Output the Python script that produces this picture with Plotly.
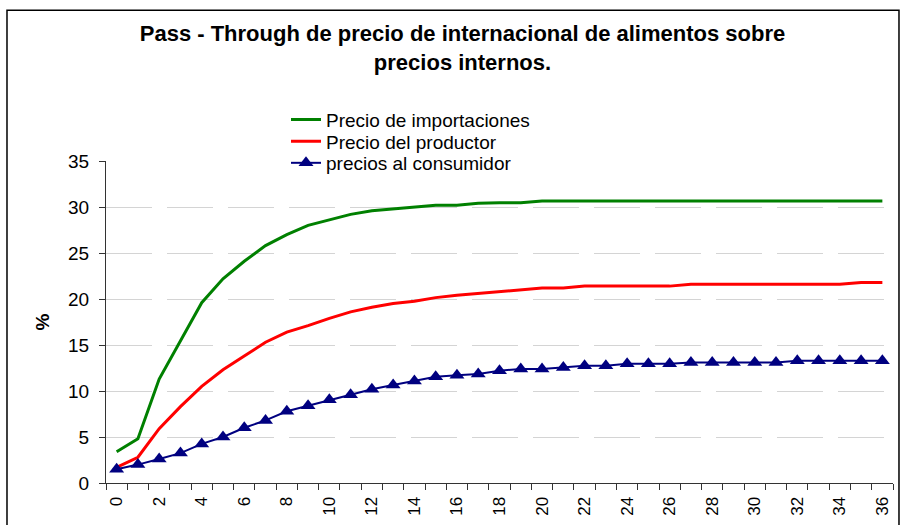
import plotly.graph_objects as go

horizon = list(range(0, 37))
tick_labels = [str(v) for v in range(0, 37, 2)]

import_prices = [3.4, 4.8, 11.3, 15.5, 19.6, 22.2, 24.1, 25.8, 27.0, 28.0,
                 28.6, 29.2, 29.6, 29.8, 30.0, 30.2, 30.2, 30.4, 30.45, 30.45,
                 30.65, 30.65, 30.65, 30.65, 30.65, 30.65, 30.65, 30.65, 30.65, 30.65,
                 30.65, 30.65, 30.65, 30.65, 30.65, 30.65, 30.65]
producer_prices = [1.7, 2.8, 5.9, 8.3, 10.5, 12.3, 13.8, 15.3, 16.4, 17.1,
                   17.9, 18.6, 19.1, 19.5, 19.75, 20.15, 20.4, 20.6, 20.75, 21.0,
                   21.2, 21.2, 21.4, 21.4, 21.4, 21.4, 21.4, 21.6, 21.6, 21.6,
                   21.6, 21.6, 21.6, 21.6, 21.6, 21.8, 21.8]
consumer_prices = [1.5, 2.0, 2.6, 3.25, 4.25, 5.0, 6.0, 6.8, 7.8, 8.4,
                   9.05, 9.6, 10.2, 10.65, 11.1, 11.55, 11.7, 11.85, 12.2, 12.4,
                   12.4, 12.55, 12.75, 12.75, 12.95, 12.95, 12.95, 13.1, 13.1, 13.1,
                   13.1, 13.1, 13.3, 13.3, 13.3, 13.3, 13.3]

FONT = "Liberation Sans, Arial, sans-serif"

fig = go.Figure()
fig.add_trace(go.Scatter(x=horizon, y=import_prices, mode="lines",
                         name="Precio de importaciones", legend="legend",
                         line=dict(color="#008000", width=3)))
fig.add_trace(go.Scatter(x=horizon, y=producer_prices, mode="lines",
                         name="Precio del productor", legend="legend2",
                         line=dict(color="#FF0000", width=3)))
fig.add_trace(go.Scatter(x=horizon, y=consumer_prices, mode="lines+markers",
                         name="precios al consumidor", legend="legend3",
                         line=dict(color="#000080", width=2),
                         marker=dict(symbol="triangle-up", size=13, color="#000080")))

# chart-area frame
fig.add_shape(type="rect", xref="paper", yref="paper",
              x0=-0.1258, x1=1.0076, y0=-0.3, y1=1.468,
              line=dict(color="black", width=1.5), fillcolor="rgba(0,0,0,0)",
              layer="below")

legend_common = dict(x=(286 - 106) / 787, xanchor="left", yanchor="middle",
                     font=dict(family=FONT, size=19, color="black"),
                     bgcolor="rgba(0,0,0,0)", borderwidth=0, itemwidth=30)

fig.update_layout(
    width=902, height=525, autosize=False,
    margin=dict(l=106, r=9, t=161, b=37, pad=0),
    paper_bgcolor="white", plot_bgcolor="white",
    font=dict(family=FONT, color="black", size=17),
    title=dict(text="Pass - Through de precio de internacional de alimentos sobre<br>precios internos.",
               x=462.5 / 902, xref="container", xanchor="center",
               y=1 - 41 / 525, yref="container", yanchor="top",
               font=dict(family=FONT, size=22, color="black", weight="bold")),
    showlegend=True,
    legend=dict(y=(488 - 119) / 327, **legend_common),
    legend2=dict(y=(488 - 141) / 327, **legend_common),
    legend3=dict(y=(488 - 163) / 327, **legend_common),
    xaxis=dict(range=[-0.5, 36.5], tickmode="array",
               tickvals=list(range(0, 37, 2)), ticktext=tick_labels,
               tickangle=-90, ticks="outside", ticklen=6, tickcolor="rgba(0,0,0,0)",
               showline=True, linecolor="#333333", linewidth=1,
               showgrid=False, zeroline=False,
               tickfont=dict(family=FONT, size=17, color="black"),
               minor=dict(tickmode="array", tickvals=[v - 0.5 for v in range(0, 38)],
                          ticks="outside", ticklen=6, tickcolor="#333333", showgrid=False)),
    yaxis=dict(range=[0, 35], dtick=5, tick0=0,
               ticks="outside", ticklen=6, tickcolor="#333333",
               showline=True, linecolor="#333333", linewidth=1,
               showgrid=True, gridcolor="#d4d4d4", gridwidth=1.3, griddash="46px,15px",
               zeroline=False, ticklabelstandoff=6,
               tickfont=dict(family=FONT, size=19, color="black"),
               title=dict(text="<b>%</b>", font=dict(family=FONT, size=19, color="black"),
                          standoff=13)),
)

fig.write_html("out.html")
